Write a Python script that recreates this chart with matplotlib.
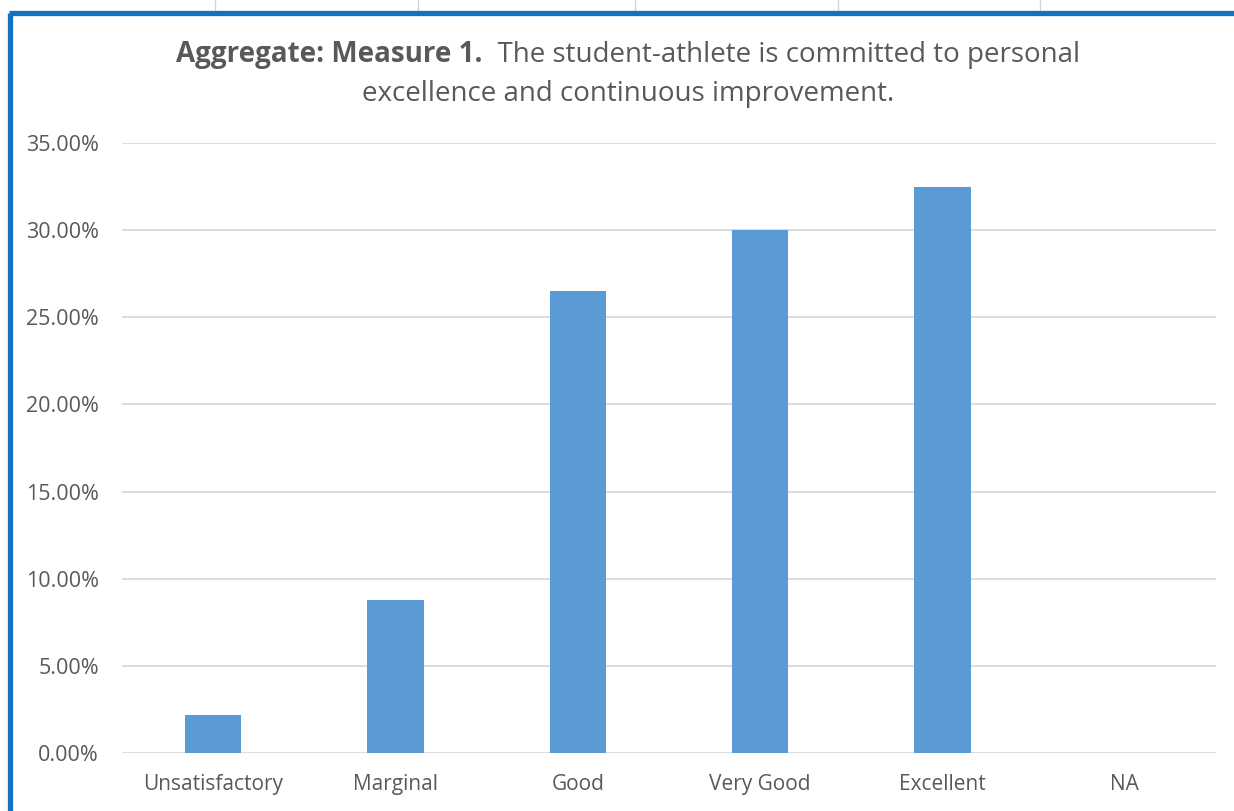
#!/usr/bin/env python3
"""Aggregate Measure 1 bar chart: share of ratings per category."""

import matplotlib
matplotlib.use('Agg')
import matplotlib.pyplot as plt
from matplotlib.lines import Line2D
from matplotlib.ticker import PercentFormatter

# ── Data ────────────────────────────────────────────────────────────
CATEGORIES = ['Unsatisfactory', 'Marginal', 'Good', 'Very Good', 'Excellent', 'NA']
SHARES = [0.022, 0.088, 0.265, 0.300, 0.325, 0.0]
Y_TICKS = [0.0, 0.05, 0.10, 0.15, 0.20, 0.25, 0.30, 0.35]

TITLE_BOLD = 'Aggregate: Measure 1.'
TITLE_REST = '  The student-athlete is committed to personal'
TITLE_LINE2 = 'excellence and continuous improvement.'

# ── Style ───────────────────────────────────────────────────────────
W, H = 1234, 811
BAR_COLOR = '#5B9BD5'
GRID_COLOR = '#D9D9D9'
TEXT_COLOR = '#595959'
FRAME_BLUE = '#1570C2'

plt.rcParams['font.family'] = ['Open Sans', 'DejaVu Sans']

fig = plt.figure(figsize=(W / 100, H / 100), dpi=100)
fig.patch.set_facecolor('white')

# spreadsheet cell lines peeking above the chart frame
for x in [215, 418, 635, 838, 1040]:
    fig.add_artist(Line2D([x / W, x / W], [1.0, 1 - 10 / H], color='#D4D4D4', lw=1))
# selection frame (left and top edges)
fig.add_artist(Line2D([10.5 / W, 10.5 / W], [0, 1 - 12.5 / H], color=FRAME_BLUE, lw=3.8,
                      solid_capstyle='butt'))
fig.add_artist(Line2D([8.5 / W, 1.0], [1 - 12.5 / H, 1 - 12.5 / H], color=FRAME_BLUE, lw=3.8,
                      solid_capstyle='butt'))

ax = fig.add_axes([122 / W, 58 / H, (1216 - 122) / W, (753 - 143) / H])
x = range(len(CATEGORIES))
ax.bar(x, SHARES, width=0.31, color=BAR_COLOR, zorder=3)

ax.set_xlim(-0.5, len(CATEGORIES) - 0.5)
ax.set_ylim(0, 0.35)
ax.set_yticks(Y_TICKS)
ax.yaxis.set_major_formatter(PercentFormatter(xmax=1.0, decimals=2))
ax.set_xticks(list(x))
ax.set_xticklabels(CATEGORIES)
ax.tick_params(axis='both', length=0, colors=TEXT_COLOR)
ax.tick_params(axis='y', pad=16.5, labelsize=15.5)
ax.tick_params(axis='x', pad=15, labelsize=15)
ax.grid(axis='y', color=GRID_COLOR, lw=1.3, zorder=0)
for side in ['top', 'right', 'left', 'bottom']:
    ax.spines[side].set_visible(False)

# two-part title: bold lead-in followed by regular text, centered as one line
cx = 628
t_bold = fig.text(0, 1 - 62 / H, TITLE_BOLD, fontsize=20, weight='bold', color=TEXT_COLOR,
                  ha='left', va='baseline')
t_rest = fig.text(0, 1 - 62 / H, TITLE_REST, fontsize=20, color=TEXT_COLOR,
                  ha='left', va='baseline')
fig.text(cx / W, 1 - 101 / H, TITLE_LINE2, fontsize=20, color=TEXT_COLOR,
         ha='center', va='baseline')
fig.canvas.draw()
r = fig.canvas.get_renderer()
wb = t_bold.get_window_extent(r).width
wr = t_rest.get_window_extent(r).width
x0 = cx - (wb + wr) / 2
t_bold.set_x(x0 / W)
t_rest.set_x((x0 + wb) / W)

fig.savefig('out.png', dpi=100)
